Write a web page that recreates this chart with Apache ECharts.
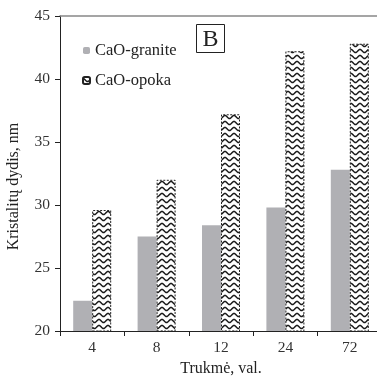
<!DOCTYPE html>
<html>
<head>
<meta charset="utf-8">
<script src="https://cdn.jsdelivr.net/npm/echarts@6/dist/echarts.min.js"></script>
<style>html,body{margin:0;padding:0;background:#fff;}#c{width:377px;height:376px;}</style>
</head>
<body>
<div id="c"></div>
<script>
const categories = ['4', '8', '12', '24', '72'];
const granite = [22.4, 27.5, 28.4, 29.8, 32.8];
const opoka = [29.6, 32.0, 37.2, 42.2, 42.8];
const yTicks = [20, 25, 30, 35, 40, 45];

function wavePattern() {
  const c = document.createElement('canvas');
  c.width = 9; c.height = 6;
  const g = c.getContext('2d');
  g.fillStyle = '#fff';
  g.fillRect(0, 0, 9, 6);
  g.strokeStyle = '#1a1a1a';
  g.lineWidth = 1.5;
  g.beginPath();
  for (let x = -1; x <= 10; x += 0.5) {
    const y = 3 - 1.6 * Math.cos((x / 9) * 2 * Math.PI);
    if (x === -1) g.moveTo(x, y); else g.lineTo(x, y);
  }
  g.stroke();
  return c;
}

const font = '"Liberation Serif", "Times New Roman", serif';
const chart = echarts.init(document.getElementById('c'));
chart.setOption({
  animation: false,
  textStyle: { fontFamily: font },
  grid: { left: 60, right: -5, top: 16, bottom: 45, containLabel: false, outerBoundsMode: 'none' },
  legend: {
    orient: 'vertical', left: 77, top: 37, itemWidth: 7, itemHeight: 7, itemGap: 13,
    textStyle: { fontFamily: font, fontSize: 16.5, color: '#222' },
    data: ['CaO-granite', 'CaO-opoka']
  },
  graphic: [{
    type: 'group', left: 196, top: 24,
    children: [
      { type: 'rect', shape: { x: 0, y: 0, width: 28, height: 28 }, style: { fill: '#fff', stroke: '#222', lineWidth: 1 } },
      { type: 'text', x: 14, y: 15, style: { text: 'B', font: '24px ' + font, fill: '#222', align: 'center', verticalAlign: 'middle' } }
    ]
  }],
  xAxis: [{
    type: 'category', data: categories,
    name: 'Trukmė, val.', nameLocation: 'middle', nameGap: 26,
    nameTextStyle: { fontFamily: font, fontSize: 16, color: '#222' },
    axisLine: { lineStyle: { color: '#222', width: 1 } },
    axisTick: { show: true, length: 5, lineStyle: { color: '#222' } },
    axisLabel: { fontFamily: font, fontSize: 15.5, color: '#333', margin: 9 }
  }, {
    type: 'category', data: categories, position: 'top',
    axisLine: { show: true, lineStyle: { color: '#888', width: 1.5 } },
    axisTick: { show: false }, axisLabel: { show: false }
  }],
  yAxis: {
    type: 'value', min: yTicks[0], max: yTicks[yTicks.length - 1], interval: 5,
    name: 'Kristalitų dydis, nm', nameLocation: 'middle', nameGap: 38,
    nameTextStyle: { fontFamily: font, fontSize: 16, color: '#222', padding: [0, 26, 0, 0] },
    axisLine: { show: true, lineStyle: { color: '#222', width: 1 } },
    axisTick: { show: true, length: 5, inside: false, lineStyle: { color: '#222' } },
    axisLabel: { fontFamily: font, fontSize: 15.5, color: '#333', margin: 10 },
    splitLine: { show: false }
  },
  series: [{
    name: 'CaO-granite', type: 'bar', data: granite,
    barWidth: 19, barGap: '0%',
    itemStyle: { color: '#b0b0b4' }
  }, {
    name: 'CaO-opoka', type: 'bar', data: opoka,
    barWidth: 19, barGap: '0%',
    itemStyle: { color: { image: wavePattern(), repeat: 'repeat' }, borderColor: '#222', borderWidth: 1, borderType: [2, 1.5] }
  }]
});
</script>
</body>
</html>
